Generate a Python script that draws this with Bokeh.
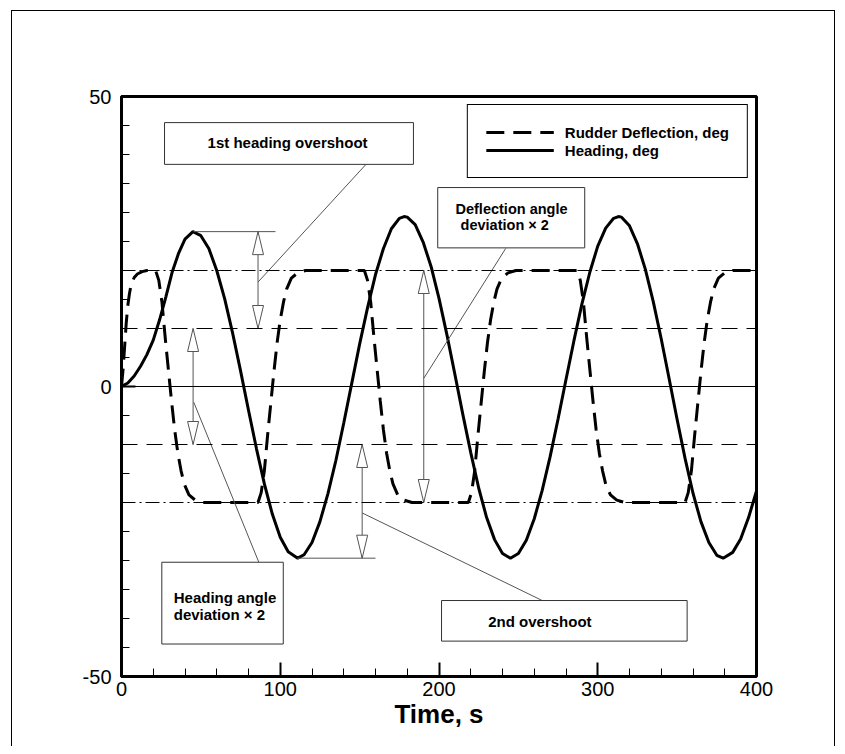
from bokeh.plotting import figure
from bokeh.models import (Range1d, SingleIntervalTicker, Span, Legend, LegendItem, Label,
                          PrintfTickFormatter)
from bokeh.embed import file_html
from bokeh.resources import INLINE

# ---------------- data ----------------
heading_t = [0, 4, 8, 12, 16, 20, 24, 28, 32, 36, 40, 45, 50, 55, 60, 65, 70, 75, 80, 85,
             90, 95, 100, 105, 111, 115, 120, 125, 130, 135, 140, 145, 150, 155, 160, 165,
             170, 175, 178, 180, 185, 190, 195, 200, 205, 210, 215, 220, 225, 230, 235, 240,
             245, 250, 255, 260, 265, 270, 275, 280, 285, 290, 295, 300, 305, 310, 313, 315,
             320, 325, 330, 335, 340, 345, 350, 355, 360, 365, 370, 375, 379, 385, 390, 395, 400]
heading_v = [0, 0.6, 1.8, 3.5, 5.5, 8.0, 11.5, 15.5, 19.8, 23.0, 25.4, 26.7, 26.0, 23.8, 20.0,
             15.1, 9.2, 2.7, -4.1, -10.7, -16.8, -22.0, -26.0, -28.5, -29.6, -29.0, -26.9, -23.3,
             -18.5, -12.8, -6.3, 0.5, 7.3, 13.6, 19.3, 23.8, 27.2, 29.0, 29.3, 29.2, 27.9, 24.9,
             20.7, 15.2, 8.9, 2.1, -4.8, -11.4, -17.5, -22.6, -26.4, -28.8, -29.6, -28.8, -26.5,
             -22.8, -17.9, -12.1, -5.6, 1.2, 7.9, 14.2, 19.7, 24.2, 27.3, 29.0, 29.3, 29.2, 27.7,
             24.6, 20.2, 14.6, 8.2, 1.3, -5.7, -12.4, -18.4, -23.3, -26.9, -29.1, -29.6, -28.6,
             -26.3, -22.6, -18.0]

rudder_t = [0, 1, 2, 3, 4, 5, 6, 8, 10, 13, 16,
            21.5, 23.5, 25.5, 27.5, 29.5, 31.5, 33.5, 35.5, 37.5, 39.5, 42.5, 46.5, 51.5,
            86, 88, 90, 92, 94, 96, 98, 100, 102, 104, 107, 111, 116,
            153, 155, 157, 159, 161, 163, 165, 167, 169, 171, 174, 178, 183,
            218.5, 220.5, 222.5, 224.5, 226.5, 228.5, 230.5, 232.5, 234.5, 236.5, 239.5, 243.5, 248.5,
            287, 289, 291, 293, 295, 297, 299, 301, 303, 305, 308, 312, 317,
            355, 357, 359, 361, 363, 365, 367, 369, 371, 373, 376, 380, 385,
            400]
rudder_v = [0, 3, 7, 11, 14, 16, 17.5, 18.8, 19.4, 19.8, 20,
            20, 18.3, 14.5, 8.5, 3.0, -2.5, -7.5, -11.5, -14.5, -16.8, -18.7, -19.6, -20,
            -20, -18.3, -14.5, -8.5, -3.0, 2.5, 7.5, 11.5, 14.5, 16.8, 18.7, 19.6, 20,
            20, 18.3, 14.5, 8.5, 3.0, -2.5, -7.5, -11.5, -14.5, -16.8, -18.7, -19.6, -20,
            -20, -18.3, -14.5, -8.5, -3.0, 2.5, 7.5, 11.5, 14.5, 16.8, 18.7, 19.6, 20,
            20, 18.3, 14.5, 8.5, 3.0, -2.5, -7.5, -11.5, -14.5, -16.8, -18.7, -19.6, -20,
            -20, -18.3, -14.5, -8.5, -3.0, 2.5, 7.5, 11.5, 14.5, 16.8, 18.7, 19.6, 20,
            20]

series_names = ["Rudder Deflection, deg", "Heading, deg"]
x_label = "Time, s"
rudder_limit = 20
heading_check = 10

# annotation geometry (data units)
arrow_t = [86.0, 45.1, 190.4, 151.6]
arrow_top = [26.7, 10.0, 20.0, -10.0]
arrow_bot = [10.0, -10.0, -20.0, -29.6]

leader_x0 = [154.0, 242.0, 45.5, 151.6]
leader_y0 = [38.3, 23.8, -2.7, -21.8]
leader_x1 = [86.0, 190.4, 86.5, 265.0]
leader_y1 = [18.0, 1.4, -30.3, -36.9]

level_x0 = [45.4, 110.7]
level_x1 = [97.0, 160.0]
level_y = [26.7, -29.6]

box_left = [27.1, 199.2, 25.4, 201.6]
box_right = [183.9, 291.8, 101.9, 356.3]
box_top = [45.5, 34.3, -30.3, -36.9]
box_bottom = [38.3, 23.9, -44.4, -43.9]

note_text = ["1st heading overshoot", "Deflection angle", "deviation  \u00d7 2",
             "Heading angle", "deviation \u00d7 2", "2nd overshoot"]
note_x = [54.2, 210.4, 213.6, 32.9, 32.9, 231.0]
note_y = [42.1, 30.6, 27.9, -36.4, -39.3, -40.5]
note_size = ["15px", "14.5px", "14.5px", "15px", "15px", "15px"]

# ---------------- figure ----------------
FRAME_W, FRAME_H = 635, 580
FONT = "Liberation Sans"
GREY = "#555555"

p = figure(frame_width=FRAME_W, frame_height=FRAME_H,
           x_range=Range1d(0, 400), y_range=Range1d(-50, 50),
           output_backend="svg", toolbar_location=None,
           min_border_left=109, min_border_right=78, min_border_top=85, min_border_bottom=70,
           margin=(10, 0, 0, 11),
           styles={"border-left": "1px solid black", "border-top": "1px solid black",
                   "border-right": "1px solid black"})
p.grid.visible = False
p.background_fill_color = "white"
p.border_fill_color = "white"
p.outline_line_color = "black"
p.outline_line_width = 3

p.xaxis.ticker = SingleIntervalTicker(interval=100, num_minor_ticks=5)
p.yaxis.ticker = SingleIntervalTicker(interval=50, num_minor_ticks=10)
for ax in (p.xaxis, p.yaxis):
    ax.formatter = PrintfTickFormatter(format="%d")
    ax.axis_line_width = 3
    ax.axis_line_color = "black"
    ax.major_tick_in = 14
    ax.major_tick_out = 0
    ax.minor_tick_in = 8
    ax.minor_tick_out = 0
    ax.major_tick_line_width = 2
    ax.minor_tick_line_width = 1
    ax.major_tick_line_color = "black"
    ax.minor_tick_line_color = "black"
    ax.major_label_text_font = FONT
    ax.major_label_text_font_size = "20px"
    ax.major_label_text_color = "black"
p.xaxis.major_label_standoff = 5
p.yaxis.major_label_standoff = 10
p.xaxis.axis_label = x_label
p.xaxis.axis_label_text_font = FONT
p.xaxis.axis_label_text_font_style = "bold"
p.xaxis.axis_label_text_font_size = "26px"
p.xaxis.axis_label_text_color = "black"
p.xaxis.axis_label_standoff = 0

# reference levels
p.add_layout(Span(location=0, dimension="width", line_color="black", line_width=1))
for lv in (heading_check, -heading_check):
    p.add_layout(Span(location=lv, dimension="width", line_color="black", line_width=1,
                      line_dash="16 9"))
for lv in (rudder_limit, -rudder_limit):
    p.add_layout(Span(location=lv, dimension="width", line_color="black", line_width=1,
                      line_dash="14 4 2 4"))

# series
r_rud = p.line(rudder_t, rudder_v, line_color="black", line_width=3, line_dash="18 9")
r_head = p.line(heading_t, heading_v, line_color="black", line_width=3)

# annotation lines
p.segment(x0=level_x0, y0=level_y, x1=level_x1, y1=level_y, line_color=GREY, line_width=1)
p.segment(x0=leader_x0, y0=leader_y0, x1=leader_x1, y1=leader_y1, line_color=GREY, line_width=1)
p.segment(x0=arrow_t, y0=arrow_top, x1=arrow_t, y1=arrow_bot, line_color=GREY, line_width=1)

# open arrow heads (length 23px, half width 5.5px)
L = 23 / (FRAME_H / 100.0)
W = 5.5 / (FRAME_W / 400.0)
hx, hy = [], []
for t, a, b in zip(arrow_t, arrow_top, arrow_bot):
    hx.append([t - W, t, t + W]); hy.append([a - L, a, a - L])
    hx.append([t - W, t, t + W]); hy.append([b + L, b, b + L])
p.patches(hx, hy, fill_color="white", line_color=GREY, line_width=1)

# callout boxes
p.quad(left=box_left, right=box_right, top=box_top, bottom=box_bottom,
       fill_color="white", line_color="#333333", line_width=1)
for txt, x, y, fs in zip(note_text, note_x, note_y, note_size):
    p.add_layout(Label(x=x, y=y, text=txt, text_font=FONT, text_font_style="bold",
                       text_font_size=fs, text_baseline="middle", text_align="left",
                       text_color="black"))

legend = Legend(items=[LegendItem(label=series_names[0], renderers=[r_rud]),
                       LegendItem(label=series_names[1], renderers=[r_head])],
                location="top_right", margin=8, padding=18, spacing=0,
                glyph_width=68, glyph_height=18, label_height=18, label_standoff=11,
                label_text_font=FONT, label_text_font_style="bold",
                label_text_font_size="15px", label_text_color="black",
                border_line_color="black", border_line_alpha=1,
                border_line_width=1, background_fill_color="white", background_fill_alpha=1)
p.add_layout(legend)

open("out.html", "w").write(file_html(p, INLINE))
